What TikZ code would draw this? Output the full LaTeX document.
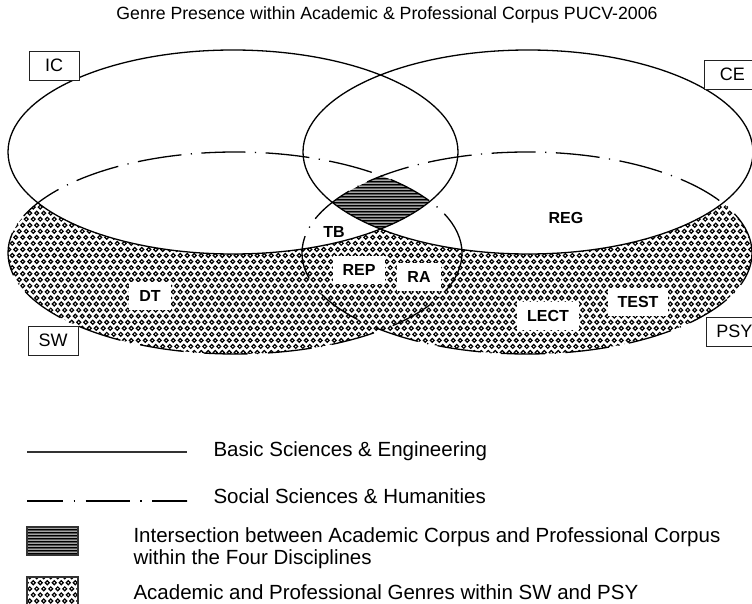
\documentclass[tikz,border=0pt]{standalone}
\usepackage{fontspec}
\setmainfont{Liberation Sans}
\setsansfont{Liberation Sans}
\usepackage{tikz}
\usetikzlibrary{patterns}
\definecolor{keyink}{HTML}{333333}
\definecolor{boxink}{HTML}{222222}
\pgfdeclarepatternformonly{rings}{\pgfqpoint{-1pt}{-1pt}}{\pgfqpoint{8pt}{13.2pt}}{\pgfqpoint{7pt}{12.12pt}}{%
  \pgfsetlinewidth{1.2pt}%
  \pgfpathcircle{\pgfqpoint{1.75pt}{3.03pt}}{1.95pt}%
  \pgfpathcircle{\pgfqpoint{5.25pt}{9.09pt}}{1.95pt}%
  \pgfusepath{stroke}}
\pgfdeclarepatternformonly{hlines}{\pgfqpoint{0pt}{0pt}}{\pgfqpoint{300pt}{3.3pt}}{\pgfqpoint{300pt}{3.3pt}}{%
  \pgfsetlinewidth{2.2pt}%
  \pgfpathmoveto{\pgfqpoint{0pt}{1.65pt}}\pgfpathlineto{\pgfqpoint{300pt}{1.65pt}}%
  \pgfusepath{stroke}}
\newcommand{\icarea}{(233,152) ellipse [x radius=225pt, y radius=102pt]}
\newcommand{\cearea}{(528,152) ellipse [x radius=225pt, y radius=102pt]}
\newcommand{\swarea}{(235,253) ellipse [x radius=227pt, y radius=101pt]}
\newcommand{\psyarea}{(527,253) ellipse [x radius=225pt, y radius=101pt]}
\newcommand{\px}[1]{\fontsize{#1}{#1}\selectfont}
\tikzset{
  bsline/.style={line width=1.3pt, draw=black},
  ssline/.style={line width=1.3pt, draw=black, dash pattern=on 44pt off 9.5pt on 1.2pt off 9.5pt},
  discbox/.style={
    draw=boxink, line width=0.8pt, fill=white, inner sep=0pt,
    minimum width=50pt, minimum height=29pt, font=\px{18}
  },
  genre/.style={font=\bfseries\px{16}, inner sep=0pt},
  genrebox/.style={genre, fill=white, minimum height=28pt, inner xsep=10pt},
  keysq/.style={draw=keyink, line width=1.2pt, inner sep=0pt, minimum width=51pt},
  legtext/.style={anchor=west, align=left, font=\fontsize{20.5}{22.5}\selectfont}
}

\begin{document}
\begin{tikzpicture}[x=1pt, y=-1pt]
  \useasboundingbox (0,0) rectangle (752,604);
  \node[font=\px{17.7}] (title) at (387,15) {Genre Presence within Academic \& Professional Corpus PUCV-2006};
  % genre areas
  \fill[pattern=rings] \swarea \psyarea;
  \fill[white] \icarea;
  \fill[white] \cearea;
  \begin{scope}
    \clip \icarea; \clip \cearea; \clip \swarea;
    \fill[pattern=hlines] \psyarea;
  \end{scope}
  \draw[bsline] \icarea;
  \draw[bsline] \cearea;
  \draw[ssline] \swarea;
  \draw[ssline] \psyarea;
  \node[genre] (tb) at (334,232) {TB};
  \node[genre] (reg) at (566,218) {REG};
  \node[genrebox] (dt) at (150,296) {DT};
  \node[genrebox] (rep) at (359,270) {REP};
  \node[genrebox] (ra) at (419,277) {RA};
  \node[genrebox] (lect) at (548,316) {LECT};
  \node[genrebox] (test) at (638,302) {TEST};
  \node[discbox] (ic) at (54,65.5) {IC};
  \node[discbox, minimum width=56pt, anchor=west] (ce) at (704,74.5) {CE};
  \node[discbox] (sw) at (53,340.5) {SW};
  \node[discbox, minimum width=56pt, anchor=west] (psy) at (706,331.5) {PSY};
  % legend
  \draw[line width=2.4pt, keyink] (27,452) -- (187,452);
  \node[legtext] (bstext) at (210,451) {Basic Sciences \& Engineering};
  \begin{scope}
    \clip (20,490) rectangle (187,510);
    \draw[line width=1.5pt, dash pattern=on 44pt off 10.5pt on 1.5pt off 10.5pt, dash phase=8pt] (27,501) -- (200,501);
  \end{scope}
  \node[legtext] (sstext) at (210,496) {Social Sciences \& Humanities};
  \node[keysq, minimum height=28pt, pattern=hlines] (ixkey) at (52.5,541) {};
  \node[legtext] (ixtext) at (130,548) {Intersection between Academic Corpus and Professional Corpus\\within the Four Disciplines};
  \node[keysq, minimum height=34pt, pattern=rings] (gnkey) at (52.5,594) {};
  \node[legtext] (gntext) at (130,592) {Academic and Professional Genres within SW and PSY};
\end{tikzpicture}
\end{document}
